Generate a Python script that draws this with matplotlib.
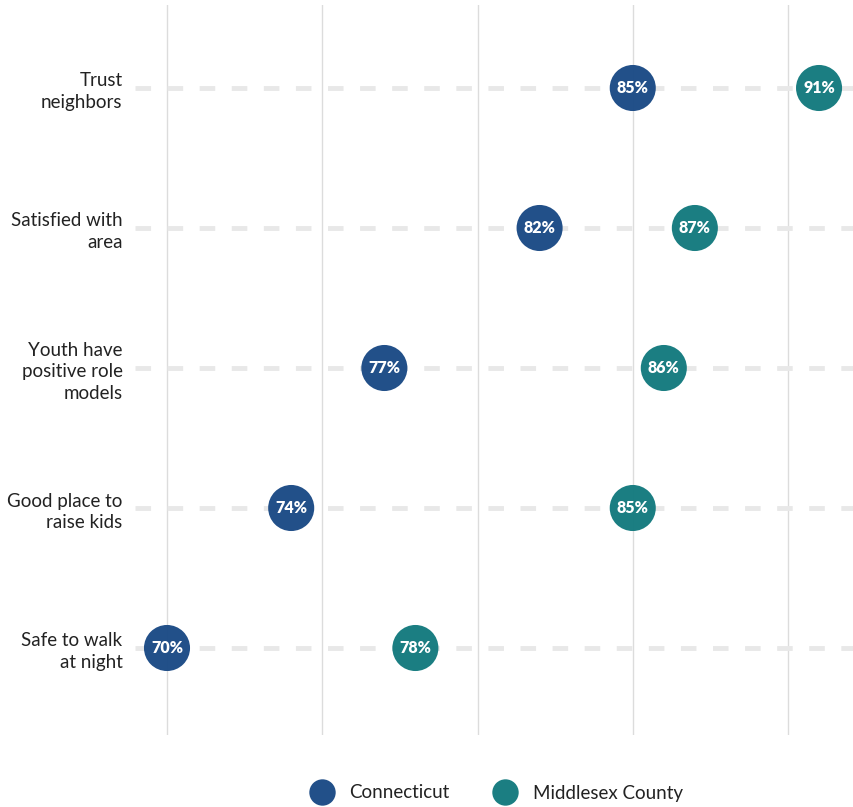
import numpy as np
import matplotlib.pyplot as plt

categories = ['Trust\nneighbors', 'Satisfied with\narea', 'Youth have\npositive role\nmodels',
              'Good place to\nraise kids', 'Safe to walk\nat night']
connecticut = [85, 82, 77, 74, 70]
middlesex = [91, 87, 86, 85, 78]
series_names = ['Connecticut', 'Middlesex County']
colors = ['#1b4a85', '#137a7e']

plt.rcParams['font.family'] = ['Lato', 'DejaVu Sans']

fig = plt.figure(figsize=(8.54, 8.07), dpi=100)
ax = fig.add_axes([135 / 854, 1 - 735 / 807, 1 - 135 / 854, (735 - 5) / 807])

y = np.arange(len(categories))[::-1]

for yi in y:
    ax.axhline(yi, color='#e8e8e8', lw=3.5, dashes=[3.2, 3.4], zorder=1)
for gx in [70, 75, 80, 85, 90]:
    ax.axvline(gx, color='#dcdcdc', lw=1, zorder=0)

for vals, col, name in zip([connecticut, middlesex], colors, series_names):
    ax.scatter(vals, y, s=1100, color=col, alpha=0.97, edgecolors='none', zorder=3, label=name)
    for v, yi in zip(vals, y):
        ax.text(v, yi, f'{v}%', color='white', fontsize=11.5, fontweight='heavy',
                ha='center', va='center', zorder=4)

ax.set_xlim(70 - 32 / 31.05, 90 + 66 / 31.05)
ax.set_ylim(-87 / 140, 4 + 83 / 140)
ax.set_yticks(y)
ax.set_yticklabels(categories, fontsize=13.5, color='#222222', linespacing=1.35)
ax.tick_params(axis='y', length=0, pad=9)
ax.set_xticks([])
for s in ax.spines.values():
    s.set_visible(False)

handles = [plt.Line2D([], [], marker='o', ls='none', markersize=19, color=c, alpha=0.97,
                      markeredgewidth=0) for c in colors]
fig.legend(handles, series_names, loc='center', bbox_to_anchor=(0.577, 1 - 793 / 807), ncol=2,
           frameon=False, fontsize=13.5, handletextpad=0.45, columnspacing=2.0,
           labelcolor='#222222')

fig.savefig('out.png', dpi=100)
